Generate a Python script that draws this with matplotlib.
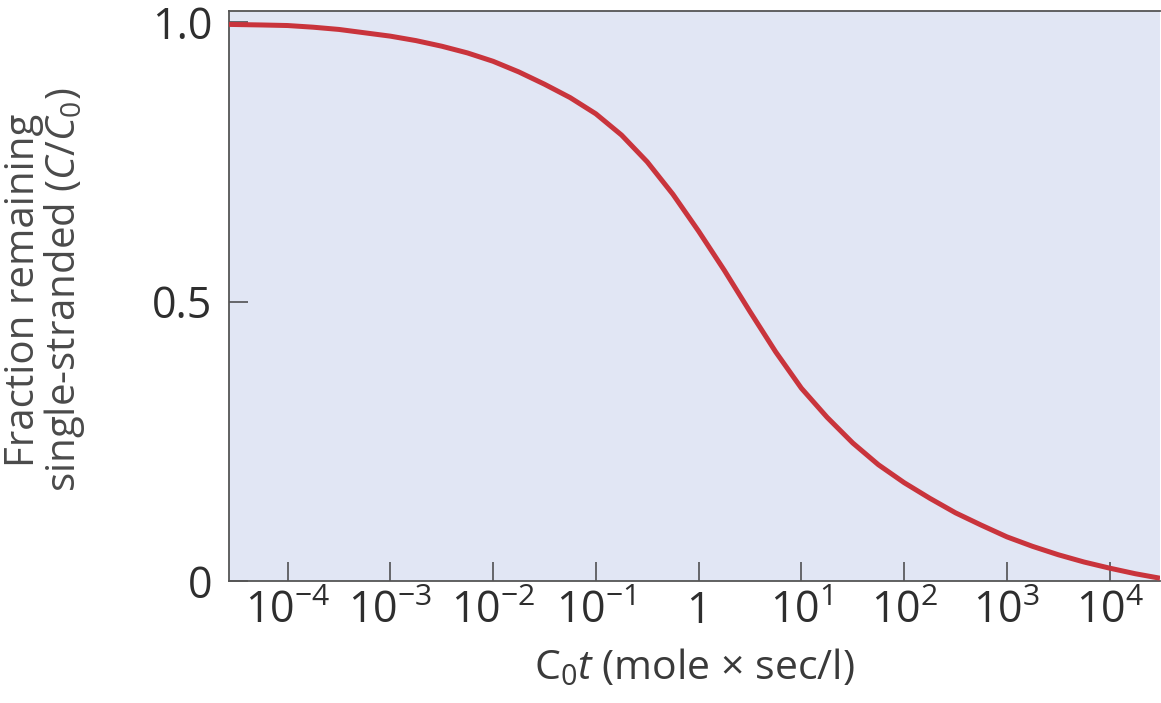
import numpy as np
import matplotlib
matplotlib.use("Agg")
import matplotlib.pyplot as plt
from matplotlib.ticker import FixedLocator, FixedFormatter, NullLocator

# Reassociation (Cot) curve: log10(C0 t) and fraction still single-stranded
log_c0t = [-4.57, -4.25, -4.0, -3.75, -3.5, -3.25, -3.0, -2.75, -2.5, -2.25,
           -2.0, -1.75, -1.5, -1.25, -1.0, -0.75, -0.5, -0.25, 0.0, 0.25,
           0.5, 0.75, 1.0, 1.25, 1.5, 1.75, 2.0, 2.25, 2.5, 2.75,
           3.0, 3.25, 3.5, 3.75, 4.0, 4.25, 4.49]
fraction_ss = [0.996, 0.995, 0.994, 0.991, 0.987, 0.981, 0.975, 0.967, 0.957, 0.945,
               0.930, 0.911, 0.889, 0.865, 0.836, 0.798, 0.750, 0.692, 0.626, 0.556,
               0.482, 0.410, 0.345, 0.293, 0.247, 0.208, 0.176, 0.148, 0.122, 0.100,
               0.079, 0.062, 0.047, 0.034, 0.023, 0.013, 0.005]

x_ticks = [1e-4, 1e-3, 1e-2, 1e-1, 1, 1e1, 1e2, 1e3, 1e4]
x_tick_labels = [r"$10^{-4}$", r"$10^{-3}$", r"$10^{-2}$", r"$10^{-1}$", "1",
                 r"$10^{1}$", r"$10^{2}$", r"$10^{3}$", r"$10^{4}$"]
y_ticks = [0, 0.5, 1.0]
y_tick_labels = ["0", "0.5", "1.0"]

plt.rcParams["font.family"] = ["Open Sans", "DejaVu Sans"]
plt.rcParams["mathtext.fontset"] = "custom"
plt.rcParams["mathtext.rm"] = "Open Sans"
plt.rcParams["mathtext.it"] = "Open Sans:italic"
plt.rcParams["mathtext.default"] = "regular"

fig = plt.figure(figsize=(11.61, 7.03), dpi=100)
fig.patch.set_facecolor("white")
ax = fig.add_axes([229 / 1161, 1 - 581 / 703, 931 / 1161, 570 / 703])
ax.set_facecolor("#E1E6F4")

ax.plot(10 ** np.array(log_c0t), fraction_ss, color="#C9343C", lw=3.6,
        solid_joinstyle="round", solid_capstyle="butt", zorder=3)

ax.set_xscale("log")
ax.set_xlim(10 ** -4.57, 10 ** 4.49)
ax.set_ylim(0, 1.02)

ax.xaxis.set_major_locator(FixedLocator(x_ticks))
ax.xaxis.set_major_formatter(FixedFormatter(x_tick_labels))
ax.xaxis.set_minor_locator(NullLocator())
ax.yaxis.set_major_locator(FixedLocator(y_ticks))
ax.yaxis.set_major_formatter(FixedFormatter(y_tick_labels))

ax.tick_params(axis="both", direction="in", length=14, width=1.1,
               color="#444444", labelcolor="#2E2E2E", labelsize=31)
ax.tick_params(axis="x", pad=6)
ax.tick_params(axis="y", pad=12)

for side, sp in ax.spines.items():
    sp.set_color("#555555")
    sp.set_linewidth(1.3)
ax.spines["right"].set_visible(False)

ax.set_xlabel(r"$C_0\mathit{t}$ (mole × sec/l)", fontsize=29.5, color="#3A3A3A")
ax.xaxis.set_label_coords(0.5, -0.118)
ax.set_ylabel("Fraction remaining\nsingle-stranded ($\\mathit{C}/\\mathit{C}_0$)",
              fontsize=29, color="#4A4A4A", linespacing=0.95)
ax.yaxis.set_label_coords(-0.152, 0.51)

fig.savefig("out.png", dpi=100, facecolor="white")
